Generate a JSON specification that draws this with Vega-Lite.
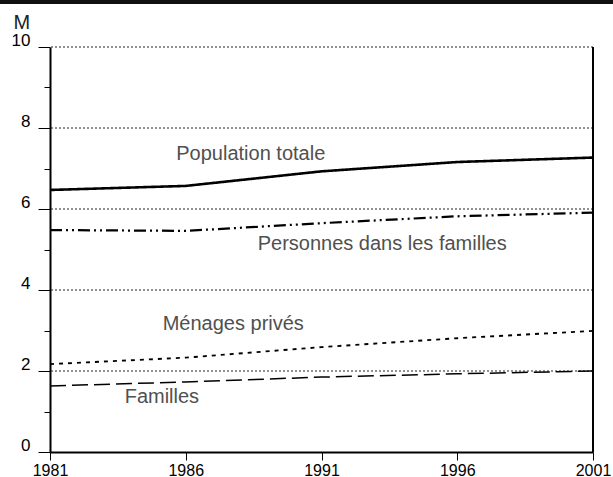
{
  "$schema": "https://vega.github.io/schema/vega-lite/v6.json",
  "width": 543,
  "height": 405,
  "autosize": {"type": "none"},
  "padding": {"left": 50, "top": 47, "right": 20, "bottom": 25},
  "background": "white",
  "config": {"view": {"stroke": null}, "font": "Liberation Sans"},
  "datasets": {
    "series": [
      {"annee": 1981, "serie": "Population totale", "valeur": 6.47},
      {"annee": 1986, "serie": "Population totale", "valeur": 6.57},
      {"annee": 1991, "serie": "Population totale", "valeur": 6.93},
      {"annee": 1996, "serie": "Population totale", "valeur": 7.16},
      {"annee": 2001, "serie": "Population totale", "valeur": 7.27},
      {"annee": 1981, "serie": "Personnes dans les familles", "valeur": 5.48},
      {"annee": 1986, "serie": "Personnes dans les familles", "valeur": 5.46},
      {"annee": 1991, "serie": "Personnes dans les familles", "valeur": 5.65},
      {"annee": 1996, "serie": "Personnes dans les familles", "valeur": 5.82},
      {"annee": 2001, "serie": "Personnes dans les familles", "valeur": 5.91},
      {"annee": 1981, "serie": "Ménages privés", "valeur": 2.17},
      {"annee": 1986, "serie": "Ménages privés", "valeur": 2.33},
      {"annee": 1991, "serie": "Ménages privés", "valeur": 2.59},
      {"annee": 1996, "serie": "Ménages privés", "valeur": 2.81},
      {"annee": 2001, "serie": "Ménages privés", "valeur": 2.99},
      {"annee": 1981, "serie": "Familles", "valeur": 1.63},
      {"annee": 1986, "serie": "Familles", "valeur": 1.73},
      {"annee": 1991, "serie": "Familles", "valeur": 1.85},
      {"annee": 1996, "serie": "Familles", "valeur": 1.93},
      {"annee": 2001, "serie": "Familles", "valeur": 2.0}
    ],
    "etiquettes": [
      {"texte": "Population totale", "annee": 1985.65, "valeur": 7.21},
      {"texte": "Personnes dans les familles", "annee": 1988.65, "valeur": 4.99},
      {"texte": "Ménages privés", "annee": 1985.15, "valeur": 3.01},
      {"texte": "Familles", "annee": 1983.75, "valeur": 1.21}
    ],
    "grille": [{"v": 2}, {"v": 4}, {"v": 6}, {"v": 8}, {"v": 10}]
  },
  "layer": [
    {
      "data": {"name": "grille"},
      "mark": {"type": "rule", "strokeDash": [2, 2], "strokeWidth": 1, "color": "#222"},
      "encoding": {
        "y": {"field": "v", "type": "quantitative", "scale": {"domain": [0, 10]},
          "axis": {
            "values": [0, 0.5, 1, 1.5, 2, 2.5, 3, 3.5, 4, 4.5, 5, 5.5, 6, 6.5, 7, 7.5, 8, 8.5, 9, 9.5, 10],
            "labelExpr": "datum.value % 2 === 0 ? datum.label : ''",
            "grid": false,
            "domainColor": "black",
            "domainWidth": 2,
            "tickColor": "black",
            "tickSize": {"condition": {"test": "datum.value % 2 === 0", "value": 12}, "value": 6},
            "tickWidth": 1,
            "labelFontSize": 17,
            "labelColor": "black",
            "labelPadding": 8,
            "labelBaseline": "alphabetic",
            "labelOffset": -2,
            "title": "M",
            "titleAngle": 0,
            "titleAlign": "left",
            "titleBaseline": "alphabetic",
            "titleFontWeight": "normal",
            "titleFontSize": 20,
            "titleColor": "#222",
            "titleX": -37,
            "titleY": -19
          }
        }
      }
    },
    {
      "data": {"name": "series"},
      "mark": {"type": "rule", "color": "black", "strokeWidth": 1.5},
      "encoding": {
        "x": {"datum": 2001, "type": "quantitative"},
        "y": {"datum": 0, "type": "quantitative"},
        "y2": {"datum": 10}
      }
    },
    {
      "data": {"name": "series"},
      "mark": {"type": "rule", "color": "#111", "strokeWidth": 3, "clip": false},
      "encoding": {
        "x": {"datum": 1979.1, "type": "quantitative"},
        "x2": {"datum": 2001.8},
        "y": {"datum": 11.12, "type": "quantitative"}
      }
    },
    {
      "data": {"name": "series"},
      "mark": {"type": "line", "color": "black"},
      "encoding": {
        "x": {"field": "annee", "type": "quantitative",
          "scale": {"domain": [1981, 2001], "nice": false, "zero": false},
          "axis": {
            "values": [1981, 1986, 1991, 1996, 2001],
            "format": "d",
            "grid": false,
            "domainColor": "black",
            "domainWidth": 2,
            "tickColor": "black",
            "tickSize": 8,
            "labelFontSize": 16,
            "labelColor": "black",
            "labelPadding": 2,
            "labelFlush": false,
            "title": null
          }
        },
        "y": {"field": "valeur", "type": "quantitative"},
        "detail": {"field": "serie"},
        "strokeWidth": {"field": "serie", "type": "nominal", "legend": null,
          "scale": {"domain": ["Population totale", "Personnes dans les familles", "Ménages privés", "Familles"], "range": [2.6, 1.5, 1.2, 1.5]}},
        "strokeDash": {"field": "serie", "type": "nominal", "legend": null,
          "scale": {"domain": ["Population totale", "Personnes dans les familles", "Ménages privés", "Familles"], "range": [[1, 0], [12, 4, 2, 4, 2, 4], [4, 5], [16, 6]]}}
      }
    },
    {
      "data": {"name": "etiquettes"},
      "mark": {"type": "text", "align": "left", "baseline": "alphabetic", "fontSize": 20, "color": "#505050"},
      "encoding": {
        "x": {"field": "annee", "type": "quantitative"},
        "y": {"field": "valeur", "type": "quantitative"},
        "text": {"field": "texte"}
      }
    }
  ]
}
